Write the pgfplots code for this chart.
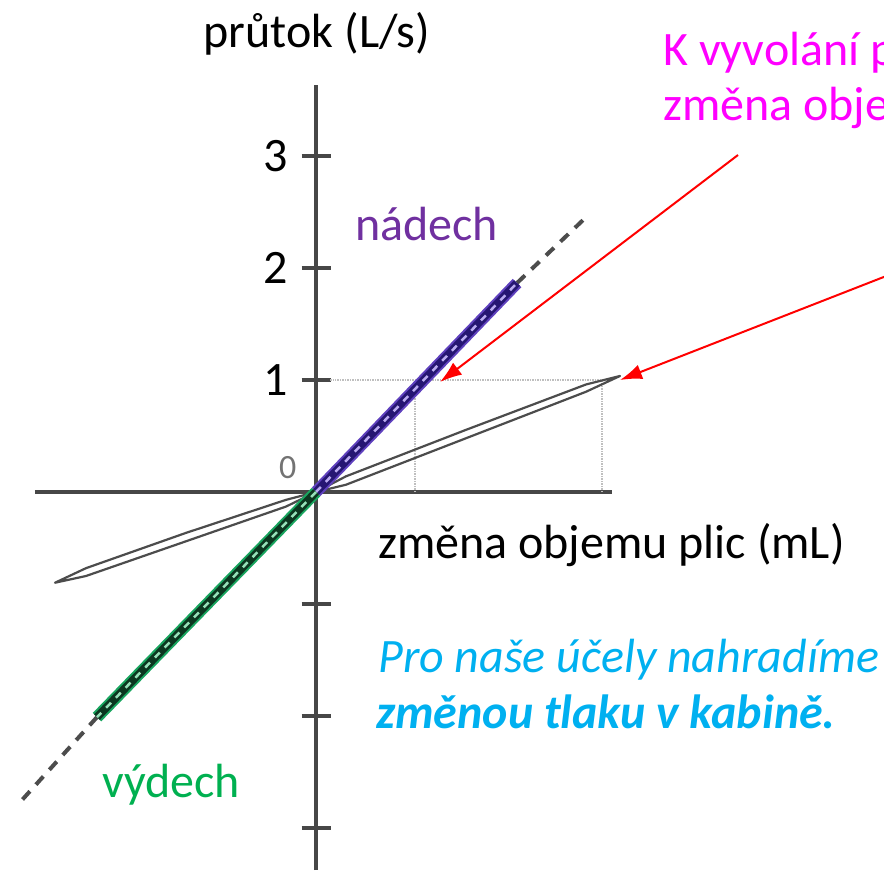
\documentclass[border=0pt]{standalone}
\usepackage{pgfplots}
\pgfplotsset{compat=1.18}
\usepackage{fontspec}
\setmainfont{Carlito}
\usetikzlibrary{arrows.meta}
\definecolor{mag}{HTML}{FF00FF}
\definecolor{cyanblue}{HTML}{00B0F0}
\definecolor{purp}{HTML}{7030A0}
\definecolor{grn}{HTML}{00B050}
\definecolor{bandpurpedge}{RGB}{95,65,190}
\definecolor{bandpurp}{RGB}{38,22,115}
\definecolor{bandpurpdash}{RGB}{185,170,240}
\definecolor{bandgrnedge}{RGB}{25,165,95}
\definecolor{bandgrn}{RGB}{12,55,32}
\definecolor{bandgrndash}{RGB}{150,225,185}
\newcommand\fs{\fontsize{48bp}{57bp}\selectfont}
\begin{document}
\begin{tikzpicture}
\useasboundingbox (0,0) rectangle (884bp,-880bp);
\clip (0,0) rectangle (884bp,-880bp);
\begin{axis}[
  anchor=origin, at={(316bp,-492bp)},
  x=100bp, y=112bp,
  xmin=-2.81, xmax=2.96, ymin=-3.375, ymax=3.63,
  axis lines=middle,
  axis line style={-, line width=4bp, draw=black!72},
  xtick=\empty,
  ytick={-3,-2,-1,1,2,3},
  yticklabels={,,,1,2,3},
  major tick length=29bp,
  tick align=center,
  major tick style={line width=4bp, draw=black!72},
  /pgf/number format/assume math mode=true,
  yticklabel style={font=\fs, black, xshift=-10bp},
  clip=false,
]
% dotted guides
\addplot[black!25, densely dotted, line width=1.5bp] coordinates {(0.14,1) (2.86,1)};
\addplot[black!25, densely dotted, line width=1.5bp] coordinates {(0.99,0) (0.99,1)};
\addplot[black!25, densely dotted, line width=1.5bp] coordinates {(2.86,0) (2.86,1)};
% gray loop
\addplot[black!70, line width=2.2bp, line join=round] coordinates {(0,0) (0.3,0.14) (1.5,0.555) (2.7,0.96) (3.04,1.036) (2.7,0.895) (1.5,0.48) (0.3,0.065) (0,0)};
\addplot[black!70, line width=2.2bp, line join=round] coordinates {(0,0) (-0.3,-0.07) (-1.3,-0.365) (-2.3,-0.68) (-2.61,-0.81) (-2.3,-0.75) (-1.3,-0.44) (-0.3,-0.13) (0,0)};
% dashed extensions
\addplot[black!70, line width=4bp, dash pattern=on 11bp off 9bp] coordinates {(2.01,1.866) (2.72,2.47)};
\addplot[black!70, line width=4bp, dash pattern=on 11bp off 9bp] coordinates {(-2.19,-2.01) (-2.96,-2.77)};
% inspiration band
\addplot[bandpurpedge, line width=12bp] coordinates {(0,0) (2.01,1.866)};
\addplot[bandpurp, line width=8bp] coordinates {(0,0) (2.01,1.866)};
\addplot[bandpurpdash, line width=2.5bp, dash pattern=on 7bp off 7bp] coordinates {(0,0) (2.01,1.866)};
% expiration band
\addplot[bandgrnedge, line width=12bp] coordinates {(0,0) (-2.19,-2.01)};
\addplot[bandgrn, line width=8bp] coordinates {(0,0) (-2.19,-2.01)};
\addplot[bandgrndash, line width=2.5bp, dash pattern=on 7bp off 7bp] coordinates {(0,0) (-2.19,-2.01)};
\end{axis}
% arrows
\draw[red, line width=2bp, -{Latex[length=22bp,width=15bp]}] (738bp,-155bp) -- (440bp,-382bp);
\draw[red, line width=2bp, -{Latex[length=22bp,width=15bp]}] (895bp,-272.6bp) -- (620bp,-380bp);
% texts
\node[anchor=base, font=\fs] at (317bp,-47bp) {průtok (L/s)};
\node[anchor=base west, inner sep=0, font=\fs] at (378bp,-558bp) {změna objemu plic (mL)};
\node[anchor=base west, inner sep=0, font=\fs, text=purp] at (355bp,-240bp) {nádech};
\node[anchor=base west, inner sep=0, font=\fs, text=grn] at (102bp,-797bp) {výdech};
\node[anchor=base west, inner sep=0, font=\fontsize{34bp}{40bp}\selectfont, text=black!55] at (279bp,-478bp) {0};
\node[anchor=base west, inner sep=0, font=\fs, text=mag] at (663bp,-65bp) {K vyvolání p};
\node[anchor=base west, inner sep=0, font=\fs, text=mag] at (663bp,-120bp) {změna obje};
\node[anchor=base west, inner sep=0, font=\fs\itshape, text=cyanblue] at (378bp,-672bp) {Pro naše účely nahradíme};
\node[anchor=base west, inner sep=0, font=\fs\bfseries\itshape, text=cyanblue] at (376bp,-728bp) {změnou tlaku v kabině.};
\end{tikzpicture}
\end{document}
